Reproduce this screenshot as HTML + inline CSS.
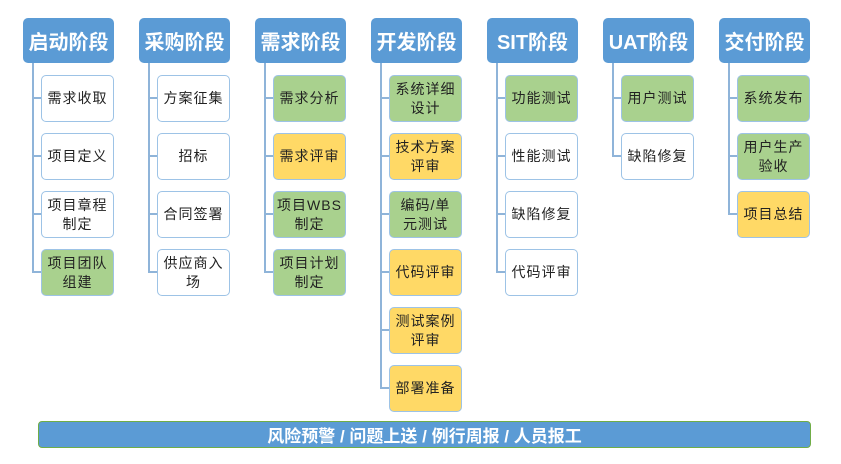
<!DOCTYPE html>
<html><head><meta charset="utf-8"><style>
body{margin:0;width:841px;height:464px;background:#fff;position:relative;overflow:hidden;font-family:"Liberation Sans","Noto Sans CJK SC",sans-serif}
.h{position:absolute;top:18px;width:91px;height:45px;background:#5b9bd5;border-radius:5px;color:#fff;font-size:20px;font-weight:bold;display:flex;align-items:center;justify-content:center}
.v{position:absolute;width:2px;background:#8fb4d9;top:63px}
.t{position:absolute;height:2px;width:8px;background:#8fb4d9}
.b{position:absolute;width:71px;height:45px;border:1.5px solid #9dc3e6;border-radius:5px;background:#fff;font-size:14px;color:#222;display:flex;align-items:center;justify-content:center;text-align:center;line-height:19px;letter-spacing:1px}
.g{background:#a9d18e}.y{background:#ffd966}
.bar{position:absolute;left:38px;top:421px;width:771px;height:25px;background:#5b9bd5;border:1.5px solid #70ad47;border-radius:4px;color:#fff;font-size:17px;font-weight:bold;display:flex;align-items:center;justify-content:center}
</style></head><body>
<div class="h" style="left:23px">启动阶段</div>
<div class="h" style="left:139px">采购阶段</div>
<div class="h" style="left:255px">需求阶段</div>
<div class="h" style="left:371px">开发阶段</div>
<div class="h" style="left:487px">SIT阶段</div>
<div class="h" style="left:603px">UAT阶段</div>
<div class="h" style="left:719px">交付阶段</div>

<div class="v" style="left:32px;height:210px"></div>
<div class="v" style="left:148px;height:210px"></div>
<div class="v" style="left:264px;height:210px"></div>
<div class="v" style="left:380px;height:326px"></div>
<div class="v" style="left:496px;height:210px"></div>
<div class="v" style="left:612px;height:94px"></div>
<div class="v" style="left:728px;height:152px"></div>

<!-- col1 -->
<div class="t" style="left:33px;top:97px"></div><div class="b" style="left:41px;top:75px">需求收取</div>
<div class="t" style="left:33px;top:155px"></div><div class="b" style="left:41px;top:133px">项目定义</div>
<div class="t" style="left:33px;top:213px"></div><div class="b" style="left:41px;top:191px">项目章程<br>制定</div>
<div class="t" style="left:33px;top:271px"></div><div class="b g" style="left:41px;top:249px">项目团队<br>组建</div>
<!-- col2 -->
<div class="t" style="left:149px;top:97px"></div><div class="b" style="left:157px;top:75px">方案征集</div>
<div class="t" style="left:149px;top:155px"></div><div class="b" style="left:157px;top:133px">招标</div>
<div class="t" style="left:149px;top:213px"></div><div class="b" style="left:157px;top:191px">合同签署</div>
<div class="t" style="left:149px;top:271px"></div><div class="b" style="left:157px;top:249px">供应商入<br>场</div>
<!-- col3 -->
<div class="t" style="left:265px;top:97px"></div><div class="b g" style="left:273px;top:75px">需求分析</div>
<div class="t" style="left:265px;top:155px"></div><div class="b y" style="left:273px;top:133px">需求评审</div>
<div class="t" style="left:265px;top:213px"></div><div class="b g" style="left:273px;top:191px">项目WBS<br>制定</div>
<div class="t" style="left:265px;top:271px"></div><div class="b g" style="left:273px;top:249px">项目计划<br>制定</div>
<!-- col4 -->
<div class="t" style="left:381px;top:97px"></div><div class="b g" style="left:389px;top:75px">系统详细<br>设计</div>
<div class="t" style="left:381px;top:155px"></div><div class="b y" style="left:389px;top:133px">技术方案<br>评审</div>
<div class="t" style="left:381px;top:213px"></div><div class="b g" style="left:389px;top:191px">编码/单<br>元测试</div>
<div class="t" style="left:381px;top:271px"></div><div class="b y" style="left:389px;top:249px">代码评审</div>
<div class="t" style="left:381px;top:329px"></div><div class="b y" style="left:389px;top:307px">测试案例<br>评审</div>
<div class="t" style="left:381px;top:387px"></div><div class="b y" style="left:389px;top:365px">部署准备</div>
<!-- col5 -->
<div class="t" style="left:497px;top:97px"></div><div class="b g" style="left:505px;top:75px">功能测试</div>
<div class="t" style="left:497px;top:155px"></div><div class="b" style="left:505px;top:133px">性能测试</div>
<div class="t" style="left:497px;top:213px"></div><div class="b" style="left:505px;top:191px">缺陷修复</div>
<div class="t" style="left:497px;top:271px"></div><div class="b" style="left:505px;top:249px">代码评审</div>
<!-- col6 -->
<div class="t" style="left:613px;top:97px"></div><div class="b g" style="left:621px;top:75px">用户测试</div>
<div class="t" style="left:613px;top:155px"></div><div class="b" style="left:621px;top:133px">缺陷修复</div>
<!-- col7 -->
<div class="t" style="left:729px;top:97px"></div><div class="b g" style="left:737px;top:75px">系统发布</div>
<div class="t" style="left:729px;top:155px"></div><div class="b g" style="left:737px;top:133px">用户生产<br>验收</div>
<div class="t" style="left:729px;top:213px"></div><div class="b y" style="left:737px;top:191px">项目总结</div>

<div class="bar">风险预警 / 问题上送 / 例行周报 / 人员报工</div>
</body></html>
